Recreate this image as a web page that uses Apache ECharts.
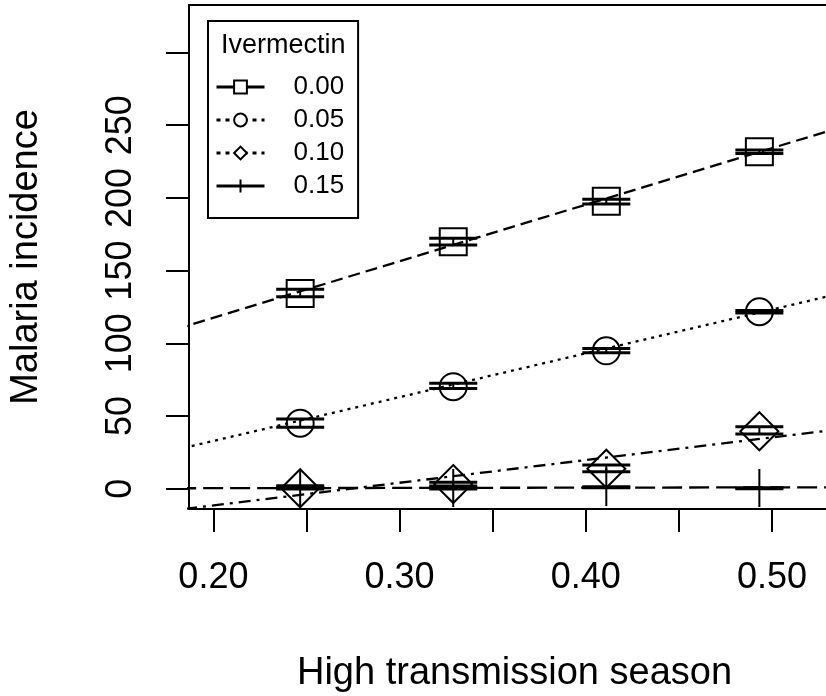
<!DOCTYPE html>
<html><head><meta charset="utf-8">
<script src="https://cdn.jsdelivr.net/npm/echarts@6/dist/echarts.min.js"></script>
<style>html,body{margin:0;padding:0;background:#fff}#chart{width:826px;height:696px}</style>
</head><body><div id="chart"></div>
<script>
// ---- data ----
const seasonX = [0.2466, 0.3288, 0.4110, 0.4932];
const groupNames = ['0.00', '0.05', '0.10', '0.15'];

const incid000 = [134.2, 169.9, 197.7, 231.8];
const incid005 = [45.0, 70.2, 94.8, 121.7];
const incid010 = [0.3, 3.2, 13.7, 39.5];
const incid015 = [0.3, 0.5, 1.2, 0.4];

const lower000 = [132.0, 167.6, 195.8, 230.6];
const upper000 = [137.1, 172.2, 199.0, 232.9];
const lower005 = [42.2, 69.0, 93.5, 120.9];
const upper005 = [47.9, 72.5, 96.5, 122.6];
const lower010 = [0.8, 1.8, 11.7, 37.6];
const upper010 = [2.0, 4.5, 16.3, 42.6];
const lower015 = [-0.2, -0.2, 0.6, -0.1];
const upper015 = [0.8, 0.6, 1.4, 0.6];

const fitX = [0.18, 0.54];
const fit000 = [109.8, 249.8];
const fit005 = [26.8, 135.3];
const fit010 = [-14.6, 41.5];
const fit015 = [0.3, 1.0];

const xTickValues = [0.20, 0.25, 0.30, 0.35, 0.40, 0.45, 0.50, 0.55];
const xLabelValues = [0.20, 0.30, 0.40, 0.50];
const xTickLabels = ['0.20', '0.30', '0.40', '0.50'];
const yTickValues = [0, 50, 100, 150, 200, 250, 300];
const yLabelValues = [0, 50, 100, 150, 200, 250];
const yTickLabels = ['0', '50', '100', '150', '200', '250'];

const xTitle = 'High transmission season';
const yTitle = 'Malaria incidence';
const legendTitle = 'Ivermectin';

// ---- styling ----
const FONT = '"Liberation Sans", Arial, Helvetica, sans-serif';
const means = [incid000, incid005, incid010, incid015];
const lowers = [lower000, lower005, lower010, lower015];
const uppers = [upper000, upper005, upper010, upper015];
const fits = [fit000, fit005, fit010, fit015];
const symbols = ['rect', 'circle', 'diamond', 'path://M5,0L5,10M0,5L10,5'];
const symbolSizes = [27, 27, [38, 38], 38];
const fitDash = [[12, 6], [3, 5], [3, 6, 12, 6], [20, 7]];
const legendDash = ['solid', [4, 5], [4, 5], 'solid'];

const series = [];
groupNames.forEach((name, g) => {
  series.push({
    name: name,
    type: 'line',
    data: fitX.map((x, i) => [x, fits[g][i]]),
    showSymbol: false,
    symbol: symbols[g],
    itemStyle: { color: '#fff', borderColor: '#000', borderWidth: 2 },
    lineStyle: { color: '#000', width: 2.3, type: fitDash[g], cap: 'butt' },
    clip: true,
    silent: true,
    z: 2
  });
});
groupNames.forEach((name, g) => {
  series.push({
    name: name + ' error',
    type: 'custom',
    silent: true,
    data: seasonX.map((x, i) => [x, lowers[g][i], uppers[g][i]]),
    encode: { x: 0, y: [1, 2] },
    renderItem: function (params, api) {
      const x = api.value(0);
      const a = api.coord([x, api.value(1)]);
      const b = api.coord([x, api.value(2)]);
      const hw = 24;
      const st = { stroke: '#000', lineWidth: 3, fill: null };
      return {
        type: 'group', children: [
          { type: 'line', shape: { x1: a[0] - hw, y1: a[1], x2: a[0] + hw, y2: a[1] }, style: st },
          { type: 'line', shape: { x1: b[0] - hw, y1: b[1], x2: b[0] + hw, y2: b[1] }, style: st },
          { type: 'line', shape: { x1: a[0], y1: a[1], x2: b[0], y2: b[1] }, style: { stroke: '#000', lineWidth: 2 } }
        ]
      };
    },
    z: 3
  });
  series.push({
    name: name + ' points',
    type: 'scatter',
    silent: true,
    data: seasonX.map((x, i) => [x, means[g][i]]),
    symbol: symbols[g],
    symbolSize: symbolSizes[g],
    itemStyle: { color: 'rgba(0,0,0,0)', borderColor: '#000', borderWidth: 2, opacity: 1 },
    z: 4
  });
});

const chart = echarts.init(document.getElementById('chart'), null, { renderer: 'canvas' });
chart.setOption({
  animation: false,
  backgroundColor: '#fff',
  textStyle: { fontFamily: FONT, color: '#000' },
  title: {
    text: legendTitle, left: 221, top: 32, padding: 0, z: 10,
    textStyle: { fontSize: 27, lineHeight: 27, fontWeight: 'normal', color: '#000', fontFamily: FONT }
  },
  legend: {
    orient: 'vertical', left: 208, top: 21,
    padding: [53, 14, 19, 7],
    itemWidth: 48, itemHeight: 16, itemGap: 7,
    borderColor: '#000', borderWidth: 2, backgroundColor: '#fff',
    selectedMode: false,
    textStyle: { fontSize: 26, lineHeight: 26, color: '#000', fontFamily: FONT, padding: [0, 0, 0, 24] },
    data: groupNames.map((n, i) => ({
      name: n,
      lineStyle: { type: legendDash[i], width: 3, color: '#000', opacity: 1 },
      itemStyle: { color: '#fff', borderColor: '#000', borderWidth: 2 }
    }))
  },
  grid: {
    left: 189, top: 5, right: -14, bottom: 187,
    show: true, borderColor: '#000', borderWidth: 2, backgroundColor: 'transparent',
    outerBoundsMode: 'none', containLabel: false
  },
  xAxis: {
    type: 'value', min: 0.1869, max: 0.5365,
    name: xTitle, nameLocation: 'middle', nameGap: 146,
    nameTextStyle: { fontSize: 38, color: '#000', fontFamily: FONT },
    axisLine: { show: true, onZero: false, lineStyle: { color: '#000', width: 2 } },
    axisTick: { show: true, length: 23, inside: false, customValues: xTickValues, lineStyle: { color: '#000', width: 2 } },
    axisLabel: {
      show: true, margin: 51, fontSize: 36, color: '#000', fontFamily: FONT,
      customValues: xLabelValues,
      formatter: function (v) { const i = xLabelValues.findIndex(t => Math.abs(t - v) < 1e-9); return i >= 0 ? xTickLabels[i] : ''; }
    },
    splitLine: { show: false }
  },
  yAxis: {
    type: 'value', min: -13.96, max: 332.67,
    name: yTitle, nameLocation: 'middle', nameGap: 143, nameRotate: 90,
    nameTextStyle: { fontSize: 38, color: '#000', fontFamily: FONT },
    axisLine: { show: true, onZero: false, lineStyle: { color: '#000', width: 2 } },
    axisTick: { show: true, length: 23, inside: false, customValues: yTickValues, lineStyle: { color: '#000', width: 2 } },
    axisLabel: {
      show: true, margin: 50, rotate: 90, fontSize: 36, color: '#000', fontFamily: FONT,
      customValues: yLabelValues,
      formatter: function (v) { const i = yLabelValues.findIndex(t => Math.abs(t - v) < 1e-9); return i >= 0 ? yTickLabels[i] : ''; }
    },
    splitLine: { show: false }
  },
  series: series
});
</script>
</body></html>
